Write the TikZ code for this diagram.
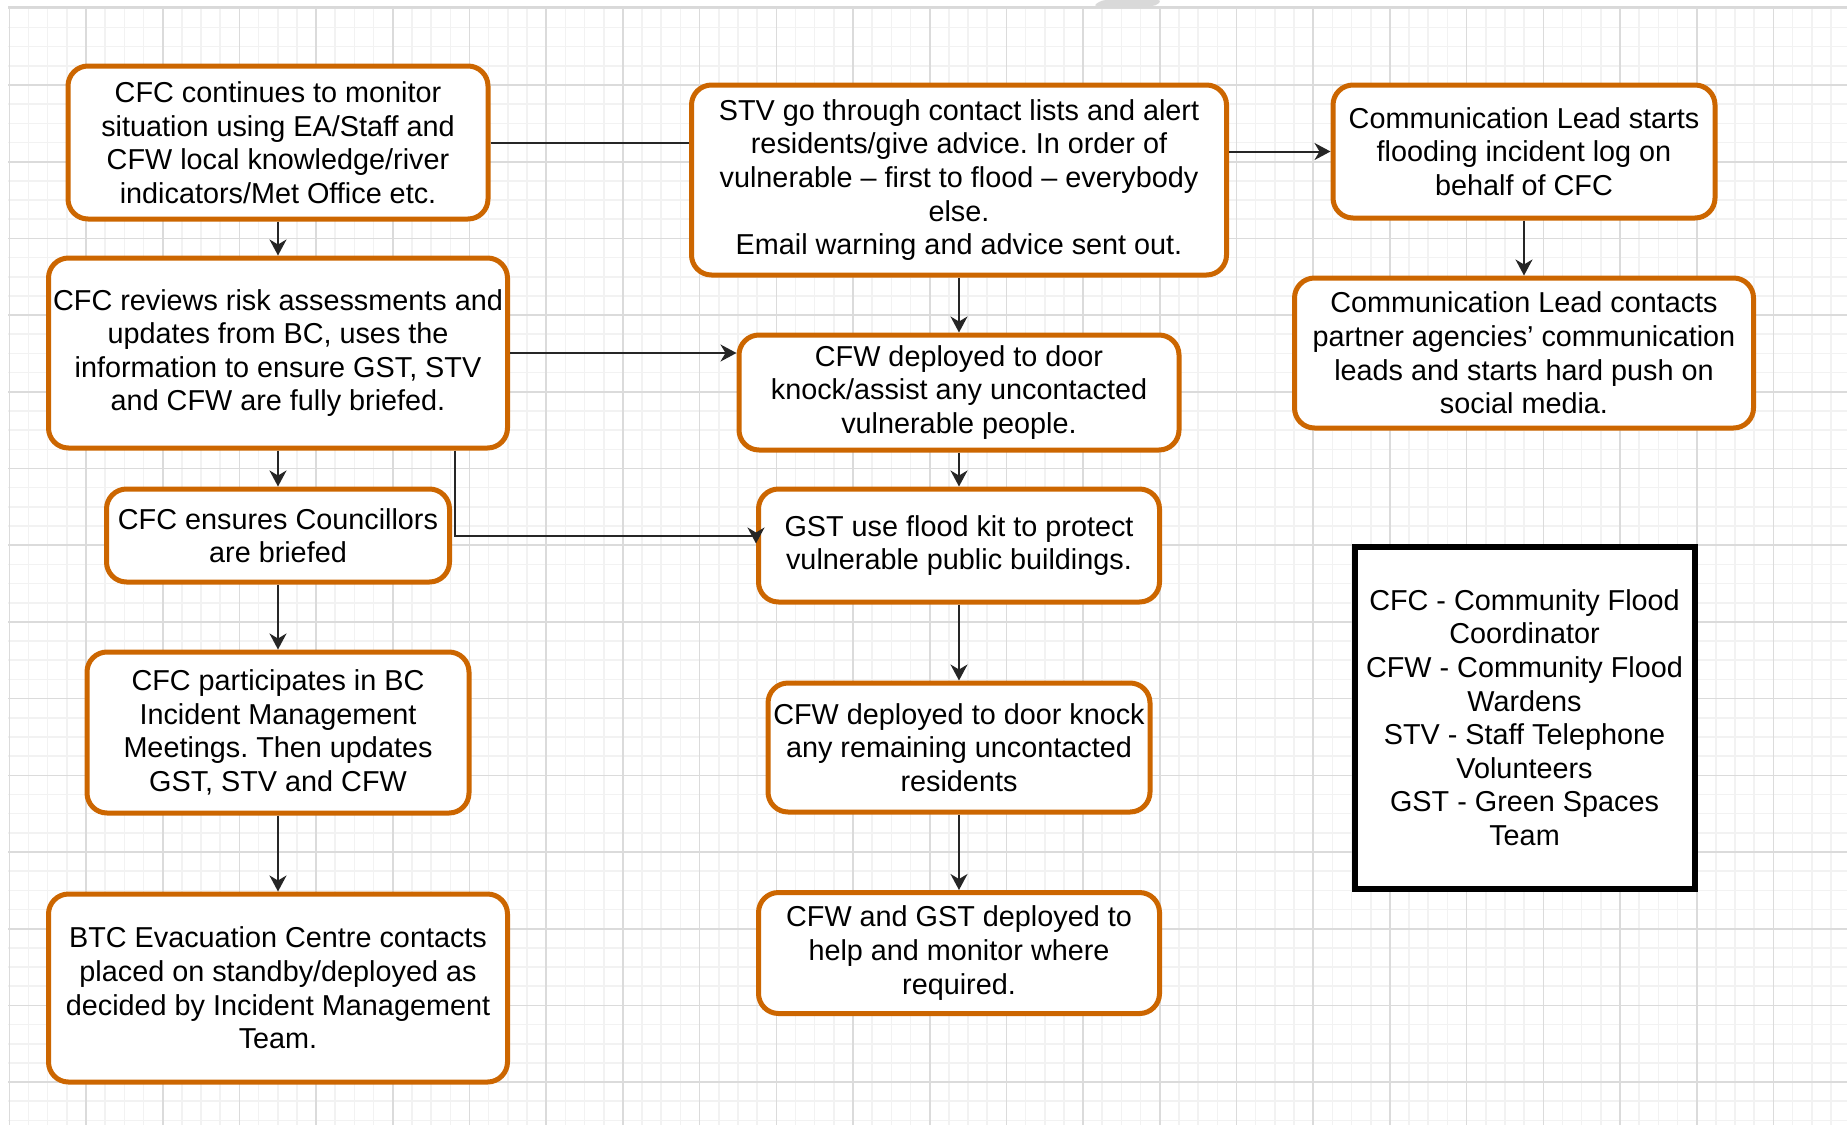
\documentclass[tikz,border=0pt]{standalone}
\usepackage{fontspec}
\setmainfont{Liberation Sans}
\usetikzlibrary{arrows.meta}
\definecolor{boxorange}{RGB}{204,102,0}
\frenchspacing
\begin{document}
\begin{tikzpicture}[x=0.5pt,y=-0.5pt,
  stepbox/.style={draw=boxorange, line width=2.5pt, rounded corners=10pt, fill=white,
    align=center, inner sep=0pt, font=\fontsize{14.4}{16.8}\selectfont},
  keybox/.style={draw=black, line width=3pt, fill=white,
    align=center, inner sep=0pt, font=\fontsize{14.4}{16.8}\selectfont},
  flow/.style={draw=black!85, line width=1pt, -{Stealth[length=8pt,width=8.5pt,inset=2.5pt]}},
  link/.style={draw=black!85, line width=1pt},
  minorline/.style={black!5, line width=0.8pt},
  majorline/.style={black!14, line width=0.8pt}]
\useasboundingbox (0,0) rectangle (1847,1125);
\fill[white] (0,0) rectangle (1847,1125);

% grid background
\foreach \i in {-4,...,91} \draw[minorline] ({86+19.175*\i},7) -- ({86+19.175*\i},1125);
\foreach \j in {-4,...,54} \draw[minorline] (8,{85+19.175*\j}) -- (1847,{85+19.175*\j});
\foreach \i in {-1,...,22} \draw[majorline] ({86+76.7*\i},7) -- ({86+76.7*\i},1125);
\foreach \j in {-1,...,13} \draw[majorline] (8,{85+76.7*\j}) -- (1847,{85+76.7*\j});
\draw[black!15, line width=1pt] (8,7) -- (1847,7);
\fill[black!15, rounded corners=2pt] (1093,6) -- (1102,0) -- (1162,0) -- (1156,6) -- cycle;

% left column
\node[stepbox, minimum width=210pt, minimum height=76.5pt] (cfcmonitor) at (278,142.5)
  {CFC continues to monitor\\situation using EA/Staff and\\CFW local knowledge/river\\indicators/Met Office etc.};
\node[stepbox, minimum width=229.5pt, minimum height=95pt] (cfcreview) at (278,353)
  {CFC reviews risk assessments and\\updates from BC, uses the\\information to ensure GST, STV\\and CFW are fully briefed.};
\node[stepbox, minimum width=171.5pt, minimum height=46.5pt] (councillors) at (278,535.5)
  {CFC ensures Councillors\\are briefed};
\node[stepbox, minimum width=191pt, minimum height=80.5pt] (imtmeeting) at (278,732.5)
  {CFC participates in BC\\Incident Management\\Meetings. Then updates\\GST, STV and CFW};
\node[stepbox, minimum width=229.5pt, minimum height=94pt] (evacuation) at (278,988)
  {BTC Evacuation Centre contacts\\placed on standby/deployed as\\decided by Incident Management\\Team.};

% middle column
\node[stepbox, minimum width=267.5pt, minimum height=95pt] (stvcall) at (959,180)
  {STV go through contact lists and alert\\residents/give advice. In order of\\vulnerable – first to flood – everybody\\else.\\Email warning and advice sent out.};
\node[stepbox, minimum width=220pt, minimum height=57.5pt] (doorknock) at (959,392.5)
  {CFW deployed to door\\knock/assist any uncontacted\\vulnerable people.};
\node[stepbox, minimum width=200.5pt, minimum height=56.5pt] (floodkit) at (959,545.5)
  {GST use flood kit to protect\\vulnerable public buildings.};
\node[stepbox, minimum width=191pt, minimum height=64.5pt] (remaining) at (959,747.5)
  {CFW deployed to door knock\\any remaining uncontacted\\residents};
\node[stepbox, minimum width=200.5pt, minimum height=60.5pt] (monitor) at (959,953)
  {CFW and GST deployed to\\help and monitor where\\required.};

% right column
\node[stepbox, minimum width=191pt, minimum height=66.5pt] (commlog) at (1524,151.5)
  {Communication Lead starts\\flooding incident log on\\behalf of CFC};
\node[stepbox, minimum width=229.5pt, minimum height=75pt] (commpush) at (1524,353)
  {Communication Lead contacts\\partner agencies’ communication\\leads and starts hard push on\\social media.};
\node[keybox, minimum width=170pt, minimum height=171pt] (key) at (1524.5,717.5)
  {CFC - Community Flood\\Coordinator\\CFW - Community Flood\\Wardens\\STV - Staff Telephone\\Volunteers\\GST - Green Spaces\\Team};

% connectors
\draw[flow] (cfcmonitor.south) -- (cfcreview.north);
\draw[flow] (cfcreview.south) -- (councillors.north);
\draw[flow] (councillors.south) -- (imtmeeting.north);
\draw[flow] (imtmeeting.south) -- (evacuation.north);
\draw[link] (cfcmonitor.east) -- (cfcmonitor.east -| stvcall.west);
\draw[flow] (cfcreview.east) -- (cfcreview.east -| doorknock.west);
\coordinate (branch) at (455,0);
\draw[flow] (cfcreview.south -| branch) |- (floodkit.west |- councillors.east) -- ++(0,8);
\draw[flow] (stvcall.south) -- (doorknock.north);
\draw[flow] (doorknock.south) -- (floodkit.north);
\draw[flow] (floodkit.south) -- (remaining.north);
\draw[flow] (remaining.south) -- (monitor.north);
\draw[flow] (stvcall.east |- commlog.west) -- (commlog.west);
\draw[flow] (commlog.south) -- (commpush.north);
\end{tikzpicture}
\end{document}
